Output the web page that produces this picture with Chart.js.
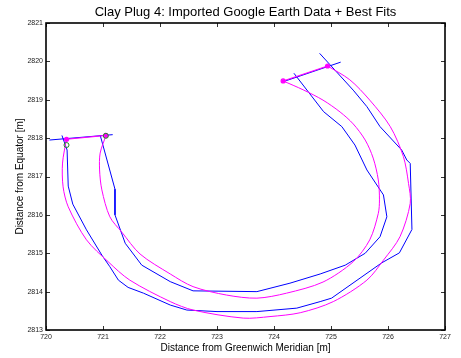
<!DOCTYPE html>
<html>
<head>
<meta charset="utf-8">
<script src="https://cdn.jsdelivr.net/npm/chart.js@4/dist/chart.umd.min.js"></script>
<style>
  html, body { margin: 0; padding: 0; background: #fff; }
  #wrap { width: 461px; height: 358px; }
</style>
</head>
<body>
<div id="wrap"><canvas id="plugChart" width="461" height="358"></canvas></div>
<script>
// Ejes
const xTicks = [720, 721, 722, 723, 724, 725, 726, 727];
const yTicks = [2813, 2814, 2815, 2816, 2817, 2818, 2819, 2820, 2821];

// Datos Google Earth (borde exterior / interior)
const outerDataX = [720.28, 720.37, 720.39, 720.47, 720.71, 720.98, 721.12, 721.27, 721.44, 721.71, 722.18, 722.47, 723.00, 723.70, 724.40, 724.81, 725.01, 725.89, 726.20, 726.42, 726.39, 726.33, 726.24, 725.86, 725.63, 725.39, 724.80];
const outerDataY = [2818.07, 2817.69, 2816.75, 2816.28, 2815.61, 2814.95, 2814.65, 2814.30, 2814.11, 2813.96, 2813.65, 2813.52, 2813.48, 2813.48, 2813.57, 2813.74, 2813.83, 2814.75, 2815.01, 2815.62, 2817.34, 2817.43, 2817.69, 2818.30, 2818.82, 2819.25, 2820.21];
const innerDataX = [720.95, 721.21, 721.21, 721.39, 721.68, 722.18, 722.58, 723.70, 724.28, 724.81, 725.25, 725.60, 725.86, 725.98, 725.92, 725.63, 725.42, 725.19, 724.87, 724.35];
const innerDataY = [2818.08, 2816.67, 2816.00, 2815.26, 2814.69, 2814.26, 2814.02, 2814.00, 2814.22, 2814.46, 2814.69, 2815.00, 2815.43, 2815.95, 2816.52, 2817.17, 2817.82, 2818.30, 2818.69, 2819.69];

// Mejores ajustes
const outerFitX = [720.36, 720.29, 720.30, 720.39, 720.71, 721.09, 721.47, 722.18, 722.58, 723.46, 723.93, 724.46, 725.04, 725.63, 725.92, 726.21, 726.39, 726.36, 726.27, 726.04, 725.68, 725.33, 724.94];
const outerFitY = [2817.98, 2817.35, 2816.73, 2816.21, 2815.35, 2814.78, 2814.30, 2813.74, 2813.52, 2813.31, 2813.35, 2813.45, 2813.74, 2814.30, 2814.82, 2815.43, 2816.30, 2816.82, 2817.52, 2818.30, 2818.99, 2819.52, 2819.88];
const innerFitX = [721.05, 720.95, 720.94, 720.98, 721.12, 721.33, 721.65, 722.18, 722.58, 723.17, 723.70, 724.22, 724.86, 725.39, 725.68, 725.83, 725.85, 725.83, 725.74, 725.60, 725.39, 725.16, 724.86, 724.51, 724.16];
const innerFitY = [2818.06, 2817.61, 2817.17, 2816.65, 2815.95, 2815.55, 2814.98, 2814.46, 2814.13, 2813.91, 2813.83, 2813.96, 2814.25, 2814.78, 2815.35, 2816.04, 2816.39, 2816.91, 2817.48, 2817.95, 2818.37, 2818.68, 2818.99, 2819.26, 2819.49];

// Líneas de cierre de los extremos
const leftEndX = [720.06, 721.17];
const leftEndY = [2817.95, 2818.09];
const leftEndFitX = [720.36, 721.05];
const leftEndFitY = [2817.97, 2818.07];
const rightEndX = [724.16, 725.17];
const rightEndY = [2819.47, 2819.98];
const rightEndFitX = [724.16, 724.94];
const rightEndFitY = [2819.49, 2819.88];
const startX = [720.36, 721.05];
const startY = [2817.82, 2818.06];

const pts = (xs, ys) => xs.map((v, i) => ({ x: v, y: ys[i] }));

const BLUE = '#0000ff';
const MAGENTA = '#ff00ff';
const FONT = "'Liberation Sans', Arial, Helvetica, sans-serif";

function lineSet(xs, ys, color, tension) {
    return {
        data: pts(xs, ys),
        showLine: true,
        borderColor: color,
        borderWidth: 1,
        pointRadius: 0,
        tension: tension,
        fill: false
    };
}

// marco tipo MATLAB con marcas hacia dentro + título centrado sobre el área
const frameTicks = {
    id: 'frameTicks',
    afterDraw(chart) {
        const { ctx, chartArea: a, scales: { x, y } } = chart;
        ctx.save();
        ctx.strokeStyle = '#333';
        ctx.lineWidth = 1;
        ctx.beginPath();
        xTicks.forEach(v => {
            const px = Math.round(x.getPixelForValue(v)) + 0.5;
            ctx.moveTo(px, a.bottom); ctx.lineTo(px, a.bottom - 4);
            ctx.moveTo(px, a.top); ctx.lineTo(px, a.top + 4);
        });
        yTicks.forEach(v => {
            const py = Math.round(y.getPixelForValue(v)) + 0.5;
            ctx.moveTo(a.left, py); ctx.lineTo(a.left + 4, py);
            ctx.moveTo(a.right, py); ctx.lineTo(a.right - 4, py);
        });
        ctx.stroke();
        ctx.strokeStyle = '#000';
        ctx.lineWidth = 1.6;
        ctx.strokeRect(a.left, a.top, a.right - a.left, a.bottom - a.top);

        ctx.fillStyle = '#000';
        ctx.font = '13px ' + FONT;
        ctx.textAlign = 'center';
        ctx.textBaseline = 'middle';
        ctx.fillText('Clay Plug 4: Imported Google Earth Data + Best Fits', (a.left + a.right) / 2, 12);
        ctx.restore();
    }
};

const ctx = document.getElementById('plugChart').getContext('2d');
const plugChart = new Chart(ctx, {
    type: 'scatter',
    data: {
        datasets: [
            { data: pts(startX, startY), showLine: false, pointRadius: 2.5, pointBorderWidth: 1, pointBorderColor: '#1f8f1f', pointBackgroundColor: 'rgba(0,0,0,0)' },
            { data: pts(leftEndFitX, leftEndFitY), showLine: true, borderColor: MAGENTA, borderWidth: 1.2, pointRadius: 2, pointBackgroundColor: MAGENTA, pointBorderColor: MAGENTA },
            { data: pts(rightEndFitX, rightEndFitY), showLine: true, borderColor: MAGENTA, borderWidth: 1.2, pointRadius: 2, pointBackgroundColor: MAGENTA, pointBorderColor: MAGENTA },
            lineSet(outerFitX, outerFitY, MAGENTA, 0.3),
            lineSet(innerFitX, innerFitY, MAGENTA, 0.3),
            lineSet(leftEndX, leftEndY, BLUE, 0),
            lineSet(rightEndX, rightEndY, BLUE, 0),
            lineSet(outerDataX, outerDataY, BLUE, 0),
            lineSet(innerDataX, innerDataY, BLUE, 0)
        ]
    },
    options: {
        responsive: false,
        animation: false,
        layout: { padding: { left: 0, right: 16, top: 23, bottom: 0 } },
        plugins: {
            legend: { display: false },
            tooltip: { enabled: false },
            title: { display: false }
        },
        scales: {
            x: {
                type: 'linear',
                min: 720, max: 727,
                afterBuildTicks: s => { s.ticks = xTicks.map(v => ({ value: v })); },
                afterFit: s => { s.height = 28; },
                grid: { display: false, drawTicks: false },
                border: { display: false },
                ticks: { color: '#222', padding: 3, font: { family: FONT, size: 7 }, callback: v => String(v) },
                title: { display: true, text: 'Distance from Greenwich Meridian [m]', color: '#000', font: { family: FONT, size: 10 }, padding: { top: 0, bottom: 4 } }
            },
            y: {
                type: 'linear',
                min: 2813, max: 2821,
                afterBuildTicks: s => { s.ticks = yTicks.map(v => ({ value: v })); },
                afterFit: s => { s.width = 46; },
                grid: { display: false, drawTicks: false },
                border: { display: false },
                ticks: { color: '#222', padding: 3, font: { family: FONT, size: 7 }, callback: v => String(v) },
                title: { display: true, text: 'Distance from Equator [m]', color: '#000', font: { family: FONT, size: 10 }, padding: { top: 14, bottom: 0 } }
            }
        }
    },
    plugins: [frameTicks]
});
</script>
</body>
</html>
